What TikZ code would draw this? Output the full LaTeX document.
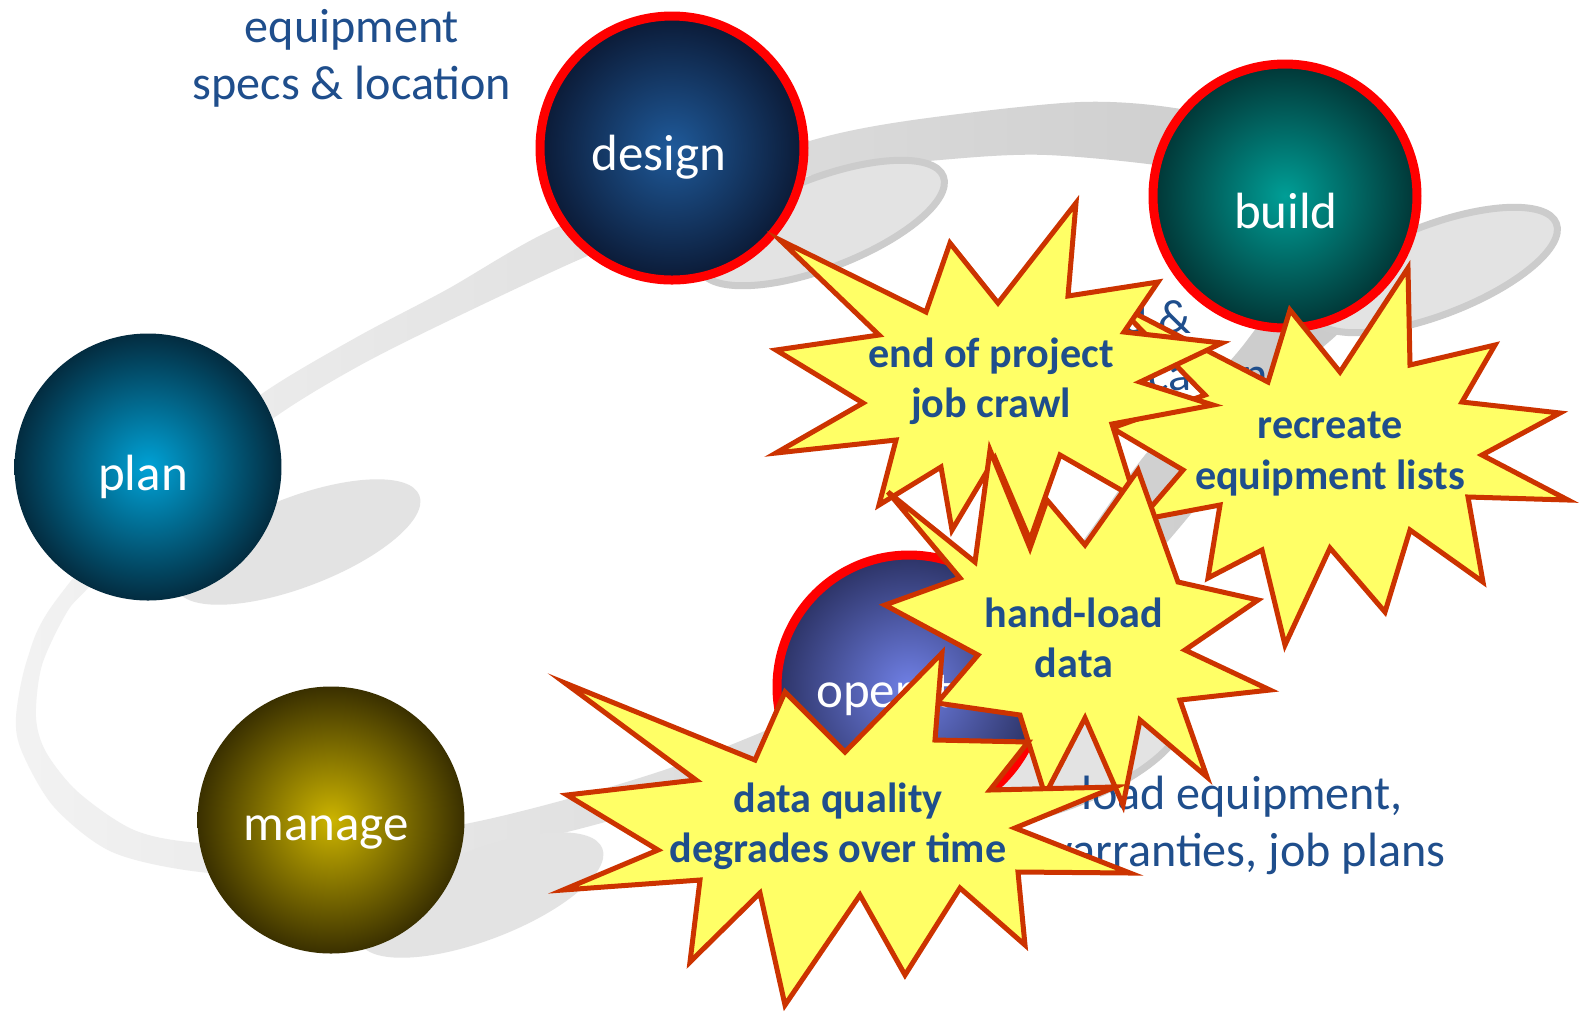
\documentclass[tikz,border=0pt]{standalone}
\usepackage{fontspec}
\setmainfont{Carlito}

\definecolor{notetext}{HTML}{1F4E8C}
\definecolor{burstfill}{HTML}{FFFF66}
\definecolor{burstedge}{HTML}{CC3300}
\definecolor{designin}{HTML}{1F5A9A}
\definecolor{designout}{HTML}{0B1A36}
\definecolor{buildin}{HTML}{009E96}
\definecolor{buildout}{HTML}{013636}
\definecolor{planin}{HTML}{00A2D6}
\definecolor{planout}{HTML}{032C40}
\definecolor{managein}{HTML}{CCB400}
\definecolor{manageout}{HTML}{3A3000}
\definecolor{operatein}{HTML}{7080E6}
\definecolor{operateout}{HTML}{2C3366}

\tikzset{
  stage/.style={circle, inner sep=0pt, minimum size=26.7mm},
  ringed/.style={draw=red, line width=0.9mm, minimum size=26.4mm},
  stagelabel/.style={anchor=base, text=white, font=\fontsize{14.5pt}{17pt}\selectfont},
  note/.style={align=center, text=notetext, font=\fontsize{13.7pt}{16.2pt}\selectfont},
  burst/.style={fill=burstfill, draw=burstedge, line width=0.5mm, line join=miter},
  bursttext/.style={align=center, text=notetext, font=\bfseries\fontsize{12pt}{14.3pt}\selectfont},
  lift/.style={fill=black!11},
  liftrim/.style={fill=black!11, draw=black!20, line width=0.7mm},
}

\begin{document}
\begin{tikzpicture}[x=0.1mm, y=-0.1mm]
  \fill[white] (0,0) rectangle (1579,1014);
  \useasboundingbox (0,0) rectangle (1579,1014);

  % grey loop behind the stages
  \shade[left color=black!5, right color=black!21, even odd rule]
    plot[smooth cycle] coordinates {(700,182) (558,227) (446,290) (357,337) (263,393) (165,470) (54,603) (27,660) (16,717) (22,752) (54,807) (112,852) (200,872) (330,878) (470,853) (575,830) (680,800) (780,764) (950,700) (1090,622) (1205,497) (1300,370) (1348,320) (1368,235) (1300,140) (1187,110) (1080,102) (913,120) (813,140)}
    plot[smooth cycle] coordinates {(700,212) (585,257) (446,322) (357,367) (275,417) (175,495) (89,587) (67,612) (42,665) (36,717) (46,752) (78,792) (134,830) (200,843) (330,846) (470,823) (575,797) (673,767) (767,730) (930,660) (1050,580) (1145,455) (1245,343) (1290,265) (1262,200) (1187,170) (1047,155) (940,160) (813,175)};

  % shadows
  \fill[lift, rotate around={21:(298,542)}] (298,542) ellipse [x radius=130, y radius=45];
  \fill[lift, rotate around={21:(481,895)}] (481,895) ellipse [x radius=130, y radius=45];
  \filldraw[liftrim, rotate around={21:(822,223)}] (822,223) ellipse [x radius=130, y radius=45];
  \filldraw[liftrim, rotate around={21:(1435,270)}] (1435,270) ellipse [x radius=130, y radius=45];
  \filldraw[liftrim, rotate around={21:(1059,762)}] (1059,762) ellipse [x radius=130, y radius=45];

  % notes
  \node[note] (specs) at (352,58) {equipment\\specs \& location};
  \node[note, align=left] (idloc) at (1190,345) {id \&\\location};
  \node[note] (upload) at (1242,825) {load equipment,\\warranties, job plans};

  % stages
  \node[stage, inner color=planin, outer color=planout] (plan) at (148,467) {};
  \node[stagelabel] (plantext) at (143,490) {plan};
  \node[stage, ringed, inner color=designin, outer color=designout] (design) at (672,148) {};
  \node[stagelabel] (designtext) at (659,170) {design};
  \node[stage, ringed, inner color=buildin, outer color=buildout] (build) at (1285,196) {};
  \node[stagelabel] (buildtext) at (1286,228) {build};
  \node[stage, inner color=managein, outer color=manageout] (manage) at (331,820) {};
  \node[stagelabel] (managetext) at (326,840) {manage};
  \node[stage, ringed, inner color=operatein, outer color=operateout] (operate) at (909,687) {};
  \node[stagelabel] (operatetext) at (897,707) {operate};

  % bursts
  \draw[burst] (1115,303) -- (1268,382) -- (1290,310) -- (1340,372) -- (1408,268) -- (1410,365) -- (1495,345) -- (1462,402) -- (1560,413) -- (1482,455) -- (1568,500) -- (1468,497) -- (1483,582) -- (1410,530) -- (1385,612) -- (1330,548) -- (1285,645) -- (1262,550) -- (1208,578) -- (1220,505) -- (1140,520) -- (1183,470) -- (1112,428) -- (1205,395) -- cycle;
  \node[bursttext] (recreate) at (1330,454) {recreate\\equipment lists};

  \draw[burst] (780,240) -- (926,312) -- (950,243) -- (998,303) -- (1076,203) -- (1068,296) -- (1158,282) -- (1124,332) -- (1222,343) -- (1140,382) -- (1213,405) -- (1112,424) -- (1135,498) -- (1060,455) -- (1030,540) -- (995,458) -- (952,530) -- (941,467) -- (879,505) -- (896,440) -- (776,453) -- (863,403) -- (776,350) -- (879,335) -- cycle;
  \node[bursttext] (crawl) at (991,381) {end of project\\job crawl};

  \draw[burst] (888,492) -- (975,562) -- (990,450) -- (1030,548) -- (1047,500) -- (1085,545) -- (1138,470) -- (1178,582) -- (1258,600) -- (1185,650) -- (1270,690) -- (1180,700) -- (1207,777) -- (1140,720) -- (1123,805) -- (1085,718) -- (1045,795) -- (1020,715) -- (937,703) -- (978,655) -- (885,605) -- (960,578) -- cycle;
  \node[bursttext] (handload) at (1074,638) {hand-load\\data};

  \draw[burst] (565,683) -- (755,760) -- (785,692) -- (845,752) -- (942,653) -- (935,740) -- (1028,742) -- (990,790) -- (1115,787) -- (1015,828) -- (1130,873) -- (1018,872) -- (1025,945) -- (960,888) -- (905,975) -- (860,895) -- (785,1005) -- (760,893) -- (690,962) -- (700,880) -- (563,890) -- (658,850) -- (567,795) -- (696,780) -- cycle;
  \node[bursttext] (quality) at (838,826) {data quality\\degrades over time};
\end{tikzpicture}
\end{document}
